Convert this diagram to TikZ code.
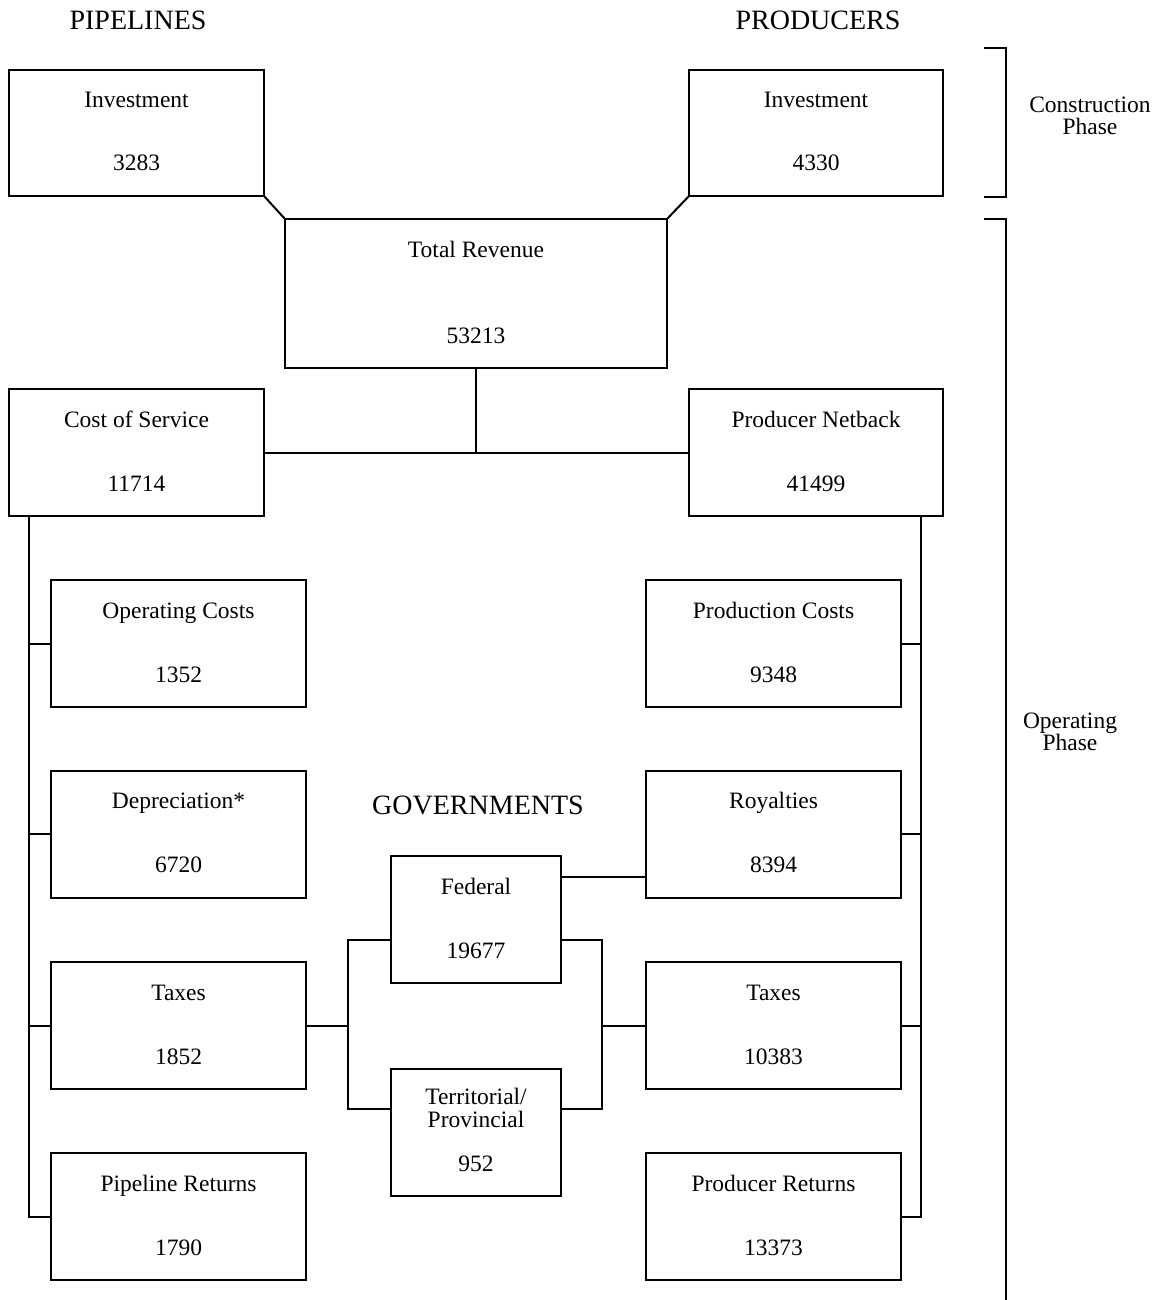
\documentclass[tikz,border=0pt]{standalone}
\usepackage{fontspec}
\setmainfont{Liberation Serif}
\begin{document}
\begin{tikzpicture}[x=1pt,y=-1pt,
  line width=2pt,
  box/.style={draw, rectangle, outer sep=0pt, inner sep=0pt},
  txt/.style={anchor=base, inner sep=0pt, font=\fontsize{23.5}{22.5}\selectfont},
  head/.style={anchor=base, inner sep=0pt, font=\fontsize{28}{30}\selectfont},
  two/.style={align=center, inner sep=0pt, font=\fontsize{23.5}{22.5}\selectfont},
  conn/.style={line width=2pt}]
\useasboundingbox (0,0) rectangle (1165,1300);
\newcommand{\bx}[7]{%
  \node[box, minimum width=#4pt, minimum height=#5pt] (#1) at (#2,#3) {};
  \node[txt] (#1-t) at ([yshift=-38pt]#1.north) {#6};
  \node[txt] (#1-n) at ([yshift=25pt]#1.south) {#7};}
% headings
\node[head] (hpipe) at (138,30) {PIPELINES};
\node[head] (hprod) at (818,30) {PRODUCERS};
\node[head] (hgov) at (478,814) {GOVERNMENTS};
% top boxes
\bx{pinv}{136.5}{133}{255}{126}{Investment}{3283}
\bx{prinv}{816}{133}{254}{126}{Investment}{4330}
\bx{rev}{476}{293.5}{382}{149}{Total Revenue}{53213}
\bx{cos}{136.5}{452.5}{255}{127}{Cost of Service}{11714}
\bx{net}{816}{452.5}{254}{127}{Producer Netback}{41499}
% left column
\bx{opc}{178.5}{643.5}{255}{127}{Operating Costs}{1352}
\bx{dep}{178.5}{834}{255}{127}{Depreciation*}{6720}
\bx{ltax}{178.5}{1025.5}{255}{127}{Taxes}{1852}
\bx{plr}{178.5}{1216.5}{255}{127}{Pipeline Returns}{1790}
% right column
\bx{prc}{773.5}{643.5}{255}{127}{Production Costs}{9348}
\bx{roy}{773.5}{834}{255}{127}{Royalties}{8394}
\bx{rtax}{773.5}{1025.5}{255}{127}{Taxes}{10383}
\bx{prr}{773.5}{1216.5}{255}{127}{Producer Returns}{13373}
% governments
\bx{fed}{476}{919.5}{170}{127}{Federal}{19677}
\node[box, minimum width=170pt, minimum height=127pt] (terr) at (476,1132.5) {};
\node[two] (terr-t) at (476,1108) {Territorial/\\Provincial};
\node[txt] (terr-n) at ([yshift=25pt]terr.south) {952};
% phase labels
\node[two] (cph) at (1090,116) {Construction\\Phase};
\node[two] (oph) at (1070,732) {Operating\\Phase};
% connectors top
\draw[conn] (pinv.south east) -- (rev.north west);
\draw[conn] (prinv.south west) -- (rev.north east);
\draw[conn] (rev.south) -- (rev.south |- cos.east);
\draw[conn] (cos.east) -- (net.west);
% left spine
\coordinate (ls) at (29,516);
\draw[conn] (ls) |- (plr.west);
\draw[conn] (ls |- opc.west) -- (opc.west);
\draw[conn] (ls |- dep.west) -- (dep.west);
\draw[conn] (ls |- ltax.west) -- (ltax.west);
% right spine
\coordinate (rs) at (921,516);
\draw[conn] (rs) |- (prr.east);
\draw[conn] (rs |- prc.east) -- (prc.east);
\draw[conn] (rs |- roy.east) -- (roy.east);
\draw[conn] (rs |- rtax.east) -- (rtax.east);
% governments connectors
\coordinate (gl) at (348,1025.5);
\coordinate (gr) at (602,1025.5);
\draw[conn] (ltax.east) -- (gl);
\draw[conn] ([yshift=-20.5pt]fed.west) -| (gl) |- ([yshift=23.5pt]terr.west);
\draw[conn] (rtax.west) -- (gr);
\draw[conn] ([yshift=-20.5pt]fed.east) -| (gr) |- ([yshift=23.5pt]terr.east);
\coordinate (fr) at ([yshift=42.5pt]fed.east);
\draw[conn] (fr) -- (fr -| roy.west);
% brackets
\coordinate (cb1) at (984,48);
\coordinate (cb2) at (984,197);
\draw[conn] (cb1) -| (1006,197) -- (cb2);
\coordinate (ob1) at (984,219);
\coordinate (ob2) at (1006,1300);
\draw[conn] (ob1) -| (ob2);
\end{tikzpicture}
\end{document}
